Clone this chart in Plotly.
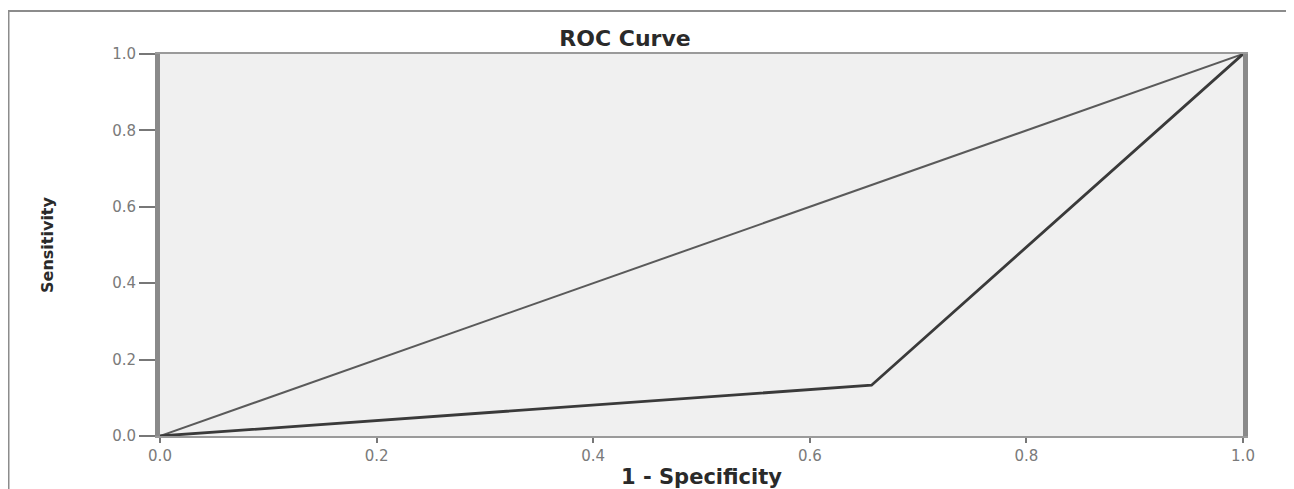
import plotly.graph_objects as go

# ---- data ----
roc_fpr = [0.0, 0.657, 1.0]
roc_tpr = [0.0, 0.133, 1.0]
ref_x = [0.0, 1.0]
ref_y = [0.0, 1.0]
tick_vals = [0.0, 0.2, 0.4, 0.6, 0.8, 1.0]
tick_text = ["0.0", "0.2", "0.4", "0.6", "0.8", "1.0"]

# page has an 8px body margin; target picture coordinates are page coordinates
OFF = 8
W, H = 1294 - OFF, 489 - OFF
L, R, T, B = 160 - OFF, 1294 - 1243, 54 - OFF, 489 - 436
pw = W - L - R
ph = H - T - B


def px(xp):  # page x -> paper x
    return (xp - OFF - L) / pw


def py(yp):  # page y -> paper y
    return (H - B - (yp - OFF)) / ph


fig = go.Figure()
fig.add_trace(go.Scatter(x=ref_x, y=ref_y, mode="lines",
                         line=dict(color="#5a5a5a", width=2),
                         showlegend=False, hoverinfo="skip"))
fig.add_trace(go.Scatter(x=roc_fpr, y=roc_tpr, mode="lines",
                         line=dict(color="#3a3a3a", width=2.8),
                         showlegend=False, hoverinfo="skip"))

axis_font = dict(family="DejaVu Sans", size=15, color="#7a7a7a")
fig.update_layout(
    width=W, height=H,
    margin=dict(l=L, r=R, t=T, b=B),
    paper_bgcolor="white",
    plot_bgcolor="#f0f0f0",
    title=dict(text="<b>ROC Curve</b>", xref="paper", x=px(625),
               xanchor="center", yref="container", y=1 - (38 - OFF) / H,
               yanchor="middle",
               font=dict(family="DejaVu Sans", size=22, color="#2a2a2a")),
    xaxis=dict(range=[0, 1], tickvals=tick_vals, ticktext=tick_text,
               showgrid=False, zeroline=False,
               showline=True, linewidth=2, linecolor="#9a9a9a", mirror=True,
               ticks="outside", ticklen=5, tickwidth=1.5, tickcolor="#777777",
               tickfont=axis_font, automargin=False,
               title=dict(text="<b>1 - Specificity</b>", standoff=5,
                          font=dict(family="DejaVu Sans", size=21, color="#2a2a2a"))),
    yaxis=dict(range=[0, 1], tickvals=tick_vals, ticktext=tick_text,
               showgrid=False, zeroline=False,
               showline=True, linewidth=5, linecolor="#8a8a8a", mirror=True,
               ticks="outside", ticklen=16, tickwidth=1.5, tickcolor="#777777",
               tickfont=axis_font, automargin=False,
               title=dict(text="<b>Sensitivity</b>", standoff=56,
                          font=dict(family="DejaVu Sans", size=16, color="#2a2a2a"))),
    shapes=[
        dict(type="line", xref="paper", yref="paper",
             x0=px(OFF + 0.5), x1=px(OFF + 0.5),
             y0=py(11), y1=py(489 + 4),
             line=dict(color="#8c8c8c", width=2)),
        dict(type="line", xref="paper", yref="paper",
             x0=px(OFF), x1=px(1294 + 4),
             y0=py(11), y1=py(11),
             line=dict(color="#8c8c8c", width=2)),
    ],
)

fig.write_html("out.html")
